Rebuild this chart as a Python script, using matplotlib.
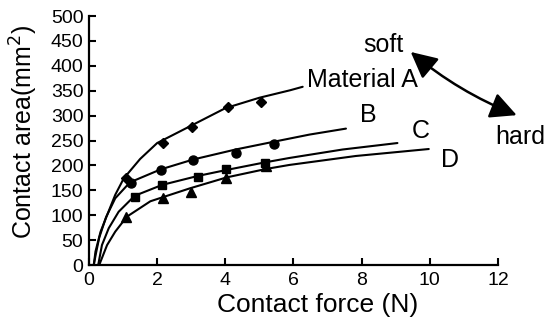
import matplotlib
matplotlib.use("Agg")
import matplotlib.pyplot as plt

plt.rcParams["font.family"] = ["Liberation Sans", "DejaVu Sans"]

# fitted curves
a_x = [0.14, 0.19, 0.34, 0.53, 0.77, 1.02, 1.5, 2.0, 3.0, 4.0, 5.0, 5.9, 6.27]
a_y = [0, 27, 67, 100, 141, 174, 213, 245, 280, 315, 336, 351, 358]
b_x = [0.14, 0.2, 0.3, 0.5, 0.77, 1.2, 2.1, 3.06, 4.3, 5.45, 6.47, 7.54]
b_y = [0, 22, 55, 96, 134, 166, 192, 212, 232, 248, 262, 274]
c_x = [0.27, 0.38, 0.58, 0.87, 1.34, 2.15, 3.2, 4.04, 5.15, 5.88, 7.44, 9.05]
c_y = [0, 40, 74, 107, 139, 161, 179, 191, 206, 215, 232, 245]
d_x = [0.3, 0.34, 0.53, 0.77, 1.11, 1.8, 2.96, 4.04, 5.2, 5.88, 7.83, 9.97]
d_y = [0, 7, 40, 67, 97, 128, 154, 176, 193, 201, 219, 233]

# measured points
pa_x = [1.08, 2.16, 3.03, 4.08, 5.04]
pa_y = [175, 245, 278, 317, 328]
pb_x = [1.22, 2.1, 3.06, 4.3, 5.43]
pb_y = [165, 191, 211, 224, 243]
pc_x = [1.34, 2.15, 3.2, 4.02, 5.16]
pc_y = [137, 161, 177, 192, 204]
pd_x = [1.1, 2.16, 3.0, 4.02, 5.2]
pd_y = [96, 134, 147, 174, 199]

xticks = [0, 2, 4, 6, 8, 10, 12]
yticks = list(range(0, 501, 50))

fig = plt.figure(figsize=(5.46, 3.22), dpi=100)
ax = fig.add_axes([0.163, 0.177, 0.749, 0.773])

for x, y in [(a_x, a_y), (b_x, b_y), (c_x, c_y), (d_x, d_y)]:
    ax.plot(x, y, color="black", lw=1.5, solid_capstyle="round")

ax.plot(pa_x, pa_y, "D", color="black", ms=5.5, ls="none")
ax.plot(pb_x, pb_y, "o", color="black", ms=6.5, ls="none")
ax.plot(pc_x, pc_y, "s", color="black", ms=6, ls="none")
ax.plot(pd_x, pd_y, "^", color="black", ms=6.5, ls="none")

ax.set_xlim(0, 12)
ax.set_ylim(0, 500)
ax.set_xticks(xticks)
ax.set_yticks(yticks)
ax.tick_params(direction="in", length=5, width=1.5, labelsize=14)
ax.tick_params(axis="x", pad=5)
ax.tick_params(axis="y", pad=4)
for s in ["top", "right"]:
    ax.spines[s].set_visible(False)
for s in ["left", "bottom"]:
    ax.spines[s].set_linewidth(1.6)

ax.set_xlabel("Contact force (N)", fontsize=19)
ax.set_ylabel("Contact area(mm$^2$)", fontsize=18)
ax.xaxis.set_label_coords(0.559, -0.112)
ax.yaxis.set_label_coords(-0.119, 0.534)

ax.text(6.41, 371, "Material A", fontsize=18, va="center", ha="left")
ax.text(8.2, 301, "B", fontsize=18, va="center", ha="center")
ax.text(9.72, 269, "C", fontsize=18, va="center", ha="center")
ax.text(10.58, 211, "D", fontsize=18, va="center", ha="center")
ax.text(8.63, 442, "soft", fontsize=18, va="center", ha="center")
ax.text(12.65, 257, "hard", fontsize=18, va="center", ha="center", clip_on=False)

ax.annotate("", xy=(12.55, 301), xytext=(9.44, 428),
            arrowprops=dict(arrowstyle="<|-|>,head_length=0.8,head_width=0.4",
                            color="black", lw=1.8, mutation_scale=20,
                            shrinkA=0, shrinkB=0,
                            connectionstyle="arc3,rad=0.08"),
            annotation_clip=False)

fig.savefig("out.png", dpi=100)
